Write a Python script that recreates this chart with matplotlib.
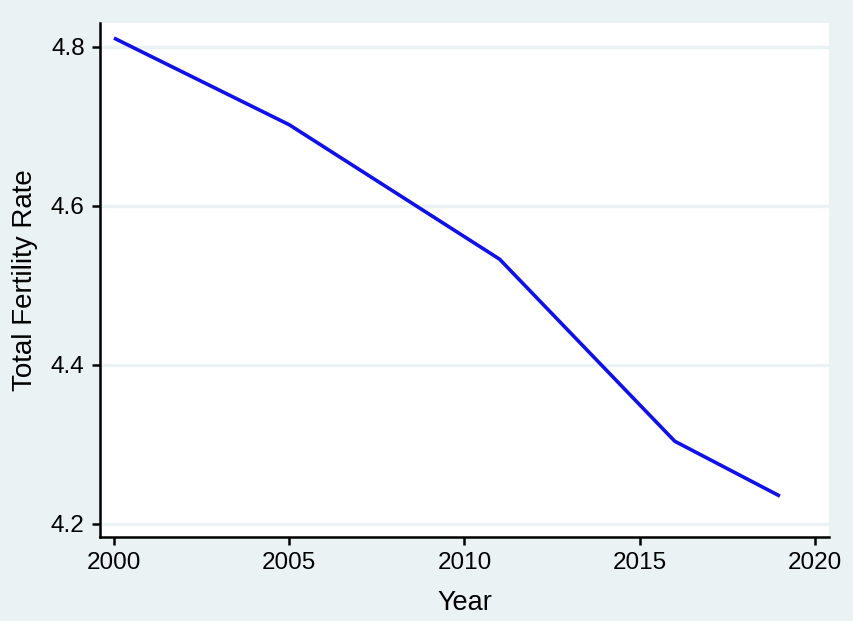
import matplotlib
matplotlib.use("Agg")
import matplotlib.pyplot as plt

# 数据
years = [2000, 2005, 2011, 2016, 2019]
tfr = [4.811, 4.702, 4.533, 4.304, 4.235]
x_ticks = [2000, 2005, 2010, 2015, 2020]
y_ticks = [4.2, 4.4, 4.6, 4.8]

BG = "#eaf2f3"
plt.rcParams["font.family"] = ["Liberation Sans", "DejaVu Sans"]

fig = plt.figure(figsize=(8.54, 6.21), dpi=100, facecolor=BG)
ax = fig.add_axes([0.1171, 0.1353, 0.9707 - 0.1171, 0.963 - 0.1353])
ax.set_facecolor("white")

ax.plot(years, tfr, color="#1010e8", linewidth=2.6, solid_capstyle="butt", zorder=3)

ax.set_xlim(1999.6, 2020.4)
ax.set_ylim(4.1836, 4.830)
ax.set_xticks(x_ticks)
ax.set_yticks(y_ticks)
ax.set_yticklabels([f"{v:.1f}" for v in y_ticks])
ax.grid(axis="y", color=BG, linewidth=2.4)
ax.set_axisbelow(True)

for s in ["top", "right"]:
    ax.spines[s].set_visible(False)
for s in ["left", "bottom"]:
    ax.spines[s].set_linewidth(1.8)
ax.tick_params(length=6, width=1.8, labelsize=17.5, pad=5)

ax.set_xlabel("Year", fontsize=19.5, labelpad=11)
ax.set_ylabel("Total Fertility Rate", fontsize=20, labelpad=9)

fig.savefig("out.png", dpi=100, facecolor=BG)
